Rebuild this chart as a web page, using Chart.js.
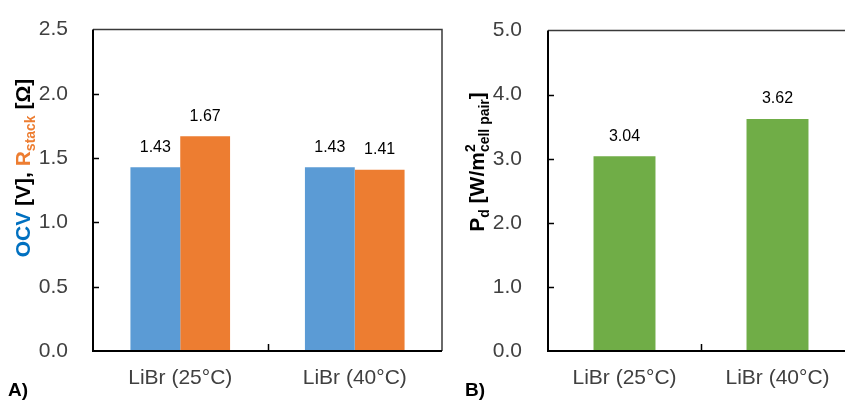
<!DOCTYPE html>
<html>
<head>
<meta charset="utf-8">
<script src="https://cdn.jsdelivr.net/npm/chart.js@4/dist/chart.umd.min.js"></script>
<style>
  html, body { margin: 0; padding: 0; background: #fff; overflow: hidden; width: 845px; height: 405px; }
  canvas { position: absolute; top: 0; }
</style>
</head>
<body>
<canvas id="chartA" width="445" height="405" style="left:0"></canvas>
<canvas id="chartB" width="410" height="405" style="left:445px"></canvas>
<script>
// ---- data ----
const categories = ['LiBr (25°C)', 'LiBr (40°C)'];
const ocv = [1.43, 1.43];          // V
const rstack = [1.67, 1.41];       // Ω
const powerDensity = [3.04, 3.62]; // W/m² cell pair

const FONT = '"Liberation Sans", Arial, sans-serif';
const BLUE = '#5B9BD5', ORANGE = '#ED7D31', GREEN = '#70AD47';
const TICK_COLOR = '#404040';

// frame, inward tick marks and the category divider ticks
const framePlugin = {
  id: 'frame',
  afterDraw(chart) {
    const { ctx, chartArea: a, scales } = chart;
    ctx.save();
    ctx.strokeStyle = '#3a3a3a';
    ctx.lineWidth = 1.5;
    ctx.beginPath();
    ctx.moveTo(a.left, a.top); ctx.lineTo(a.right, a.top); ctx.lineTo(a.right, a.bottom);
    ctx.stroke();
    ctx.strokeStyle = '#000';
    ctx.lineWidth = 2;
    ctx.beginPath();
    ctx.moveTo(a.left, a.top); ctx.lineTo(a.left, a.bottom); ctx.lineTo(a.right, a.bottom);
    ctx.stroke();
    ctx.lineWidth = 1.5;
    ctx.beginPath();
    scales.y.ticks.forEach(t => {
      if (t.value <= scales.y.min || t.value >= scales.y.max) return;
      const y = Math.round(scales.y.getPixelForValue(t.value)) + 0.5;
      ctx.moveTo(a.left, y); ctx.lineTo(a.left + 6, y);
    });
    const n = chart.data.labels.length;
    for (let i = 0; i < n - 1; i++) {
      const x = Math.round((scales.x.getPixelForValue(i) + scales.x.getPixelForValue(i + 1)) / 2) + 0.5;
      ctx.moveTo(x, a.bottom); ctx.lineTo(x, a.bottom - 7);
    }
    ctx.stroke();
    ctx.restore();
  }
};

// value labels above each bar
const valuePlugin = {
  id: 'values',
  afterDatasetsDraw(chart) {
    const { ctx } = chart;
    ctx.save();
    ctx.font = '16px ' + FONT;
    ctx.fillStyle = '#000';
    ctx.textAlign = 'center';
    ctx.textBaseline = 'middle';
    chart.data.datasets.forEach((ds, di) => {
      chart.getDatasetMeta(di).data.forEach((el, i) => {
        ctx.fillText(ds.data[i].toFixed(2), el.x, el.y - 20);
      });
    });
    ctx.restore();
  }
};

// rotated axis title made of runs with colours, subscripts and superscripts
function drawRichTitle(ctx, cx, cy, runs) {
  ctx.save();
  const measure = r => { ctx.font = 'bold ' + r.size + 'px ' + FONT; return ctx.measureText(r.text).width; };
  let total = 0;
  runs.forEach(r => { r.w = measure(r); if (!r.stack) total += r.w; else total += Math.max(r.w, measure(r.stack)); });
  ctx.translate(cx, cy);
  ctx.rotate(-Math.PI / 2);
  ctx.textBaseline = 'alphabetic';
  ctx.textAlign = 'left';
  let x = -total / 2;
  runs.forEach(r => {
    ctx.font = 'bold ' + r.size + 'px ' + FONT;
    ctx.fillStyle = r.color;
    ctx.fillText(r.text, x, 7.5 + (r.dy || 0));
    let adv = r.w;
    if (r.stack) {
      const s = r.stack;
      ctx.font = 'bold ' + s.size + 'px ' + FONT;
      ctx.fillStyle = s.color;
      ctx.fillText(s.text, x, 7.5 + s.dy);
      adv = Math.max(adv, measure(s));
    }
    x += adv;
  });
  ctx.restore();
}

function panelTag(text, x, y) {
  return {
    id: 'tag',
    afterDraw(chart) {
      const { ctx } = chart;
      ctx.save();
      ctx.font = 'bold 19px ' + FONT;
      ctx.fillStyle = '#000';
      ctx.textAlign = 'left';
      ctx.textBaseline = 'middle';
      ctx.fillText(text, x, y);
      ctx.restore();
    }
  };
}

function baseScales(yMax, yStep, yWidth, yPad) {
  return {
    x: {
      grid: { display: false },
      border: { display: false },
      ticks: { color: TICK_COLOR, font: { size: 21, family: FONT }, padding: 7 },
      afterFit: s => { s.height = 54; }
    },
    y: {
      min: 0, max: yMax,
      grid: { display: false },
      border: { display: false },
      ticks: { stepSize: yStep, color: TICK_COLOR, font: { size: 21, family: FONT }, padding: yPad,
               callback: v => Number(v).toFixed(1) },
      afterFit: s => { s.width = yWidth; }
    }
  };
}

const common = {
  responsive: false,
  animation: false,
  plugins: { legend: { display: false }, tooltip: { enabled: false } }
};

new Chart(document.getElementById('chartA'), {
  type: 'bar',
  data: {
    labels: categories,
    datasets: [
      { label: 'OCV', data: ocv, backgroundColor: BLUE, categoryPercentage: 0.571, barPercentage: 1 },
      { label: 'Rstack', data: rstack, backgroundColor: ORANGE, categoryPercentage: 0.571, barPercentage: 1 }
    ]
  },
  options: Object.assign({}, common, {
    layout: { padding: { top: 21, right: 3, left: 0, bottom: 0 } },
    scales: baseScales(2.5, 0.5, 93, 17)
  }),
  plugins: [framePlugin, valuePlugin, panelTag('A)', 8, 391), {
    id: 'titleA',
    afterDraw(chart) {
      drawRichTitle(chart.ctx, 22, 168, [
        { text: 'OCV', size: 21, color: '#0070C0' },
        { text: ' [V], ', size: 21, color: '#000' },
        { text: 'R', size: 21, color: ORANGE },
        { text: 'stack', size: 14, color: ORANGE, dy: 5 },
        { text: ' [Ω]', size: 21, color: '#000' }
      ]);
    }
  }]
});

new Chart(document.getElementById('chartB'), {
  type: 'bar',
  data: {
    labels: categories,
    datasets: [
      { label: 'Pd', data: powerDensity, backgroundColor: GREEN, categoryPercentage: 0.405, barPercentage: 1 }
    ]
  },
  options: Object.assign({}, common, {
    layout: { padding: { top: 21, right: 1, left: 0, bottom: 0 } },
    scales: baseScales(5, 1, 103, 18)
  }),
  plugins: [framePlugin, valuePlugin, panelTag('B)', 20, 391), {
    id: 'titleB',
    afterDraw(chart) {
      drawRichTitle(chart.ctx, 31, 162, [
        { text: 'P', size: 21, color: '#000' },
        { text: 'd', size: 14, color: '#000', dy: 5 },
        { text: ' [W/m', size: 21, color: '#000' },
        { text: '2', size: 14, color: '#000', dy: -9,
          stack: { text: 'cell pair', size: 14, color: '#000', dy: 5 } },
        { text: ']', size: 21, color: '#000' }
      ]);
    }
  }]
});
</script>
</body>
</html>
